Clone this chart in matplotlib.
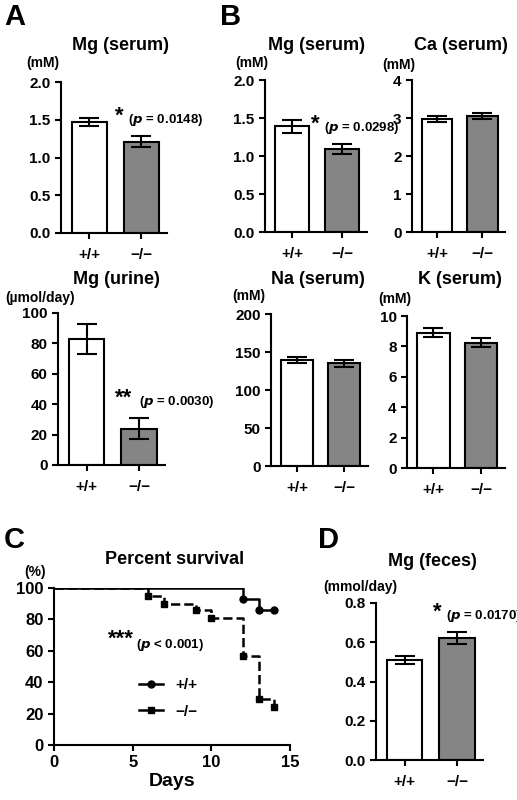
import matplotlib
matplotlib.use("Agg")
import matplotlib.pyplot as plt

plt.rcParams['font.family'] = ['Liberation Sans', 'DejaVu Sans']
plt.rcParams['font.weight'] = 'bold'

genotypes = ["+/+", "\u2212/\u2212"]
mgA_mean = [1.47, 1.21]; mgA_err = [0.05, 0.07]
mgU_mean = [83, 24]; mgU_err = [10, 7]
mgB_mean = [1.39, 1.09]; mgB_err = [0.09, 0.07]
ca_mean = [2.97, 3.05]; ca_err = [0.08, 0.07]
na_mean = [139, 135]; na_err = [4, 5]
k_mean = [8.9, 8.25]; k_err = [0.3, 0.3]
mgF_mean = [0.51, 0.62]; mgF_err = [0.02, 0.03]

days_wt = [0, 12, 13, 14]
surv_wt = [100, 93, 86, 86]
days_ko = [0, 6, 7, 9, 10, 12, 13, 14]
surv_ko = [100, 95, 90, 86, 81, 57, 29, 24]

W, H = 517, 800
fig = plt.figure(figsize=(W/100, H/100), dpi=100)

def ax_px(x0, x1, ytop, ybot):
    return fig.add_axes([x0/W, (H-ybot)/H, (x1-x0)/W, (ybot-ytop)/H])

def ftext(x, y, s, size, ha='center', **kw):
    fig.text(x/W, 1 - y/H, s, fontsize=size, fontweight='bold', ha=ha, va='center', **kw)

def style(ax):
    for s in ['top', 'right']:
        ax.spines[s].set_visible(False)
    for s in ['left', 'bottom']:
        ax.spines[s].set_linewidth(1.5)
    ax.tick_params(width=1.5, length=4, labelsize=11)

def bars(ax, mean, err, ymax, yticks, fmt=None):
    ax.bar([0, 1], mean, width=0.68, color=['white', '#858585'], edgecolor='black', linewidth=1.5)
    ax.errorbar([0, 1], mean, yerr=err, fmt='none', ecolor='black', capsize=7, elinewidth=1.5, capthick=1.5)
    ax.set_xlim(-0.55, 1.5)
    ax.set_ylim(0, ymax)
    ax.set_yticks(yticks)
    if fmt:
        ax.set_yticklabels([fmt.format(v) for v in yticks])
    ax.set_xticks([0, 1])
    ax.set_xticklabels(genotypes)
    ax.tick_params(axis='x', length=0, pad=7)
    style(ax)

def pval(ax, x, y, stars, ptxt):
    ax.text(x, y, stars, fontsize=16, fontweight='bold', ha='left', va='bottom')
    ax.annotate(r"($\it{p}$ " + ptxt + ")", (x, y), xytext=(len(stars)*8 + 1, -1),
                textcoords='offset points', fontsize=9.5, fontweight='bold', ha='left', va='bottom')

a1 = ax_px(61, 167, 82, 233)
bars(a1, mgA_mean, mgA_err, 2.0, [0, 0.5, 1.0, 1.5, 2.0], "{:.1f}")
pval(a1, 0.5, 1.41, "*", "= 0.0148")
ftext(120, 45, "Mg (serum)", 13); ftext(26, 63, "(mM)", 10, ha='left')

a2 = ax_px(58, 165, 313, 465)
bars(a2, mgU_mean, mgU_err, 100, [0, 20, 40, 60, 80, 100])
pval(a2, 0.55, 37, "**", "= 0.0030")
ftext(116, 280, "Mg (urine)", 13); ftext(5, 298, "(\u00b5mol/day)", 10, ha='left')

b1 = ax_px(265, 367, 80, 232)
bars(b1, mgB_mean, mgB_err, 2.0, [0, 0.5, 1.0, 1.5, 2.0], "{:.1f}")
pval(b1, 0.38, 1.28, "*", "= 0.0298")
ftext(316, 45, "Mg (serum)", 13); ftext(235, 63, "(mM)", 10, ha='left')

b2 = ax_px(412, 505, 80, 232)
bars(b2, ca_mean, ca_err, 4, [0, 1, 2, 3, 4])
ftext(461, 45, "Ca (serum)", 13); ftext(382, 65, "(mM)", 10, ha='left')

b3 = ax_px(271, 368, 314, 466)
bars(b3, na_mean, na_err, 200, [0, 50, 100, 150, 200])
ftext(318, 280, "Na (serum)", 13); ftext(232, 296, "(mM)", 10, ha='left')

b4 = ax_px(407, 505, 316, 468)
bars(b4, k_mean, k_err, 10, [0, 2, 4, 6, 8, 10])
ftext(460, 280, "K (serum)", 13); ftext(378, 299, "(mM)", 10, ha='left')

c = ax_px(54, 290, 588, 745)
c.step(days_wt, surv_wt, where='post', color='black', lw=1.8)
c.plot(days_wt[1:], surv_wt[1:], 'o', color='black', ms=5)
c.step(days_ko, surv_ko, where='post', color='black', lw=1.8, ls='--')
c.plot(days_ko[1:], surv_ko[1:], 's', color='black', ms=5)
c.plot([], [], '-o', color='black', ms=5, lw=1.8, label='+/+')
c.plot([], [], '-s', color='black', ms=5, lw=1.8, label='\u2212/\u2212')
c.legend(loc='lower left', bbox_to_anchor=(0.3, 0.08), frameon=False, fontsize=11,
         handlelength=1.6, labelspacing=0.8)
c.set_xlim(0, 15); c.set_ylim(0, 100)
c.set_xticks([0, 5, 10, 15]); c.set_yticks([0, 20, 40, 60, 80, 100])
style(c)
c.tick_params(labelsize=12)
c.set_xlabel("Days", fontsize=14, fontweight='bold', labelpad=2)
c.text(3.4, 64, "***", fontsize=16, fontweight='bold')
c.text(5.2, 62, r"($\it{p}$ < 0.001)", fontsize=9.5, fontweight='bold')
ftext(175, 559, "Percent survival", 13); ftext(24, 572, "(%)", 10, ha='left')

d = ax_px(376, 483, 603, 760)
bars(d, mgF_mean, mgF_err, 0.8, [0, 0.2, 0.4, 0.6, 0.8], "{:.1f}")
pval(d, 0.55, 0.70, "*", "= 0.0170")
ftext(432, 561, "Mg (feces)", 13); ftext(323, 587, "(mmol/day)", 10, ha='left')

for lbl, x, y in [("A", 4, 17), ("B", 220, 17), ("C", 4, 540), ("D", 318, 540)]:
    fig.text(x/W, 1 - y/H, lbl, fontsize=21, fontweight='bold', ha='left', va='center')

fig.savefig("out.png", dpi=100)
